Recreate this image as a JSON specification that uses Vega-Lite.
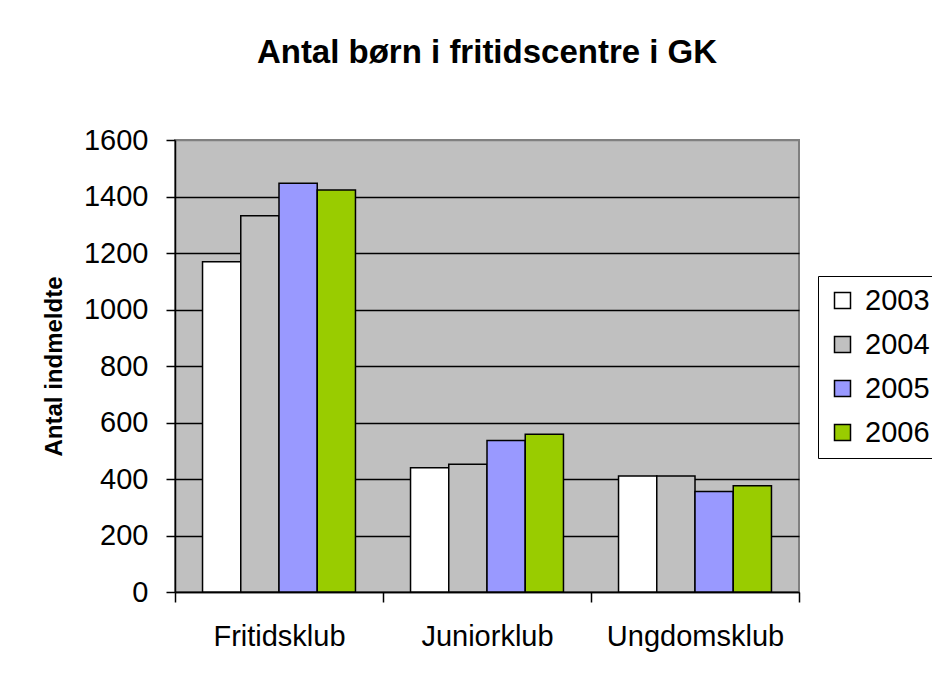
{
  "$schema": "https://vega.github.io/schema/vega-lite/v6.json",
  "autosize": "none",
  "padding": {"left": 175, "top": 140, "right": 133, "bottom": 83},
  "width": 624,
  "height": 452,
  "background": "white",
  "title": {
    "text": "Antal børn i fritidscentre i GK",
    "font": "Liberation Sans",
    "fontSize": 33,
    "fontWeight": "bold",
    "color": "black",
    "anchor": "middle",
    "frame": "group",
    "baseline": "alphabetic",
    "offset": 30
  },
  "data": {
    "values": [
      {"klub": "Fritidsklub", "year": "2003", "antal": 1169},
      {"klub": "Fritidsklub", "year": "2004", "antal": 1332},
      {"klub": "Fritidsklub", "year": "2005", "antal": 1447},
      {"klub": "Fritidsklub", "year": "2006", "antal": 1423},
      {"klub": "Juniorklub", "year": "2003", "antal": 440},
      {"klub": "Juniorklub", "year": "2004", "antal": 452},
      {"klub": "Juniorklub", "year": "2005", "antal": 536},
      {"klub": "Juniorklub", "year": "2006", "antal": 558},
      {"klub": "Ungdomsklub", "year": "2003", "antal": 411},
      {"klub": "Ungdomsklub", "year": "2004", "antal": 411},
      {"klub": "Ungdomsklub", "year": "2005", "antal": 356},
      {"klub": "Ungdomsklub", "year": "2006", "antal": 376}
    ]
  },
  "mark": {"type": "bar", "stroke": "black", "strokeWidth": 1.5},
  "encoding": {
    "x": {
      "field": "klub",
      "type": "nominal",
      "sort": null,
      "scale": {"paddingInner": 0, "paddingOuter": 0},
      "axis": {
        "title": null,
        "labelAngle": 0,
        "labelFont": "Liberation Sans",
        "labelFontSize": 29,
        "labelLimit": 400,
        "labelColor": "black",
        "labelPadding": 20,
        "tickBand": "extent",
        "tickColor": "black",
        "tickSize": 10,
        "tickWidth": 1.5,
        "domainColor": "black",
        "domainWidth": 1.5,
        "grid": false
      }
    },
    "xOffset": {
      "field": "year",
      "type": "nominal",
      "scale": {"paddingInner": 0, "paddingOuter": 0.72}
    },
    "y": {
      "field": "antal",
      "type": "quantitative",
      "scale": {"domain": [0, 1600], "nice": false},
      "axis": {
        "title": "Antal indmeldte",
        "titleFont": "Liberation Sans",
        "titleFontSize": 24,
        "titleFontWeight": "bold",
        "titleColor": "black",
        "titlePadding": 17,
        "values": [0, 200, 400, 600, 800, 1000, 1200, 1400, 1600],
        "format": "d",
        "labelFont": "Liberation Sans",
        "labelFontSize": 29,
        "labelColor": "black",
        "labelPadding": 18,
        "tickColor": "black",
        "tickSize": 9,
        "tickWidth": 1.5,
        "domainColor": "black",
        "domainWidth": 1.5,
        "grid": true,
        "gridColor": {"condition": {"test": "datum.value === 1600", "value": "#808080"}, "value": "black"},
        "gridWidth": 1.5,
        "gridOpacity": 1
      }
    },
    "fill": {
      "field": "year",
      "type": "nominal",
      "scale": {"domain": ["2003", "2004", "2005", "2006"], "range": ["#ffffff", "#c0c0c0", "#9999ff", "#99cc00"]},
      "legend": {
        "title": null,
        "orient": "none",
        "legendX": 643,
        "legendY": 136,
        "strokeColor": "black",
        "padding": 10,
        "symbolType": "square",
        "symbolSize": 256,
        "symbolStrokeColor": "black",
        "symbolStrokeWidth": 1.5,
        "labelFont": "Liberation Sans",
        "labelFontSize": 29,
        "labelColor": "black",
        "labelOffset": 8,
        "rowPadding": 14,
        "fillColor": "white",
        "encode": {"symbols": {"update": {"stroke": {"value": "black"}, "strokeWidth": {"value": 1.5}}}}
      }
    }
  },
  "config": {
    "view": {"fill": "#c0c0c0", "stroke": "#808080", "strokeWidth": 2}
  }
}
